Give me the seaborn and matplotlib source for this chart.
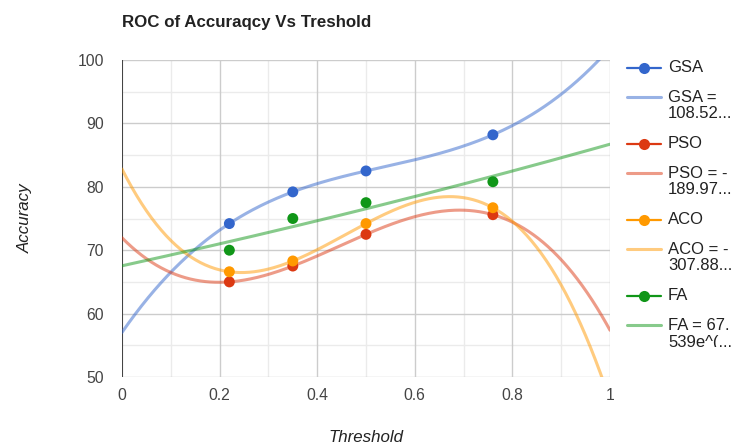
import numpy as np
import pandas as pd
import matplotlib
matplotlib.use("Agg")
import matplotlib.pyplot as plt
from matplotlib.lines import Line2D
from matplotlib.transforms import Affine2D, Bbox
import seaborn as sns

# ---- data ----
thresholds = [0.22, 0.35, 0.5, 0.76]
gsa = [74.2, 79.2, 82.5, 88.2]
pso = [65.0, 67.5, 72.5, 75.6]
aco = [66.6, 68.3, 74.2, 76.7]
fa = [70.0, 75.0, 77.5, 80.8]
series_names = ["GSA", "PSO", "ACO", "FA"]
trend_labels = [("GSA =", "108.52..."), ("PSO = -", "189.97..."),
                ("ACO = -", "307.88..."), ("FA = 67.", "539e^(...")]
colors = ["#3366cc", "#dc3912", "#ff9900", "#109618"]
x_ticks = [0, 0.2, 0.4, 0.6, 0.8, 1]
y_ticks = [50, 60, 70, 80, 90, 100]

W, H = 735, 445
sns.set_theme(style="white")
plt.rcParams["font.family"] = ["Liberation Sans", "DejaVu Sans"]

fig = plt.figure(figsize=(W / 100, H / 100), dpi=100)
ax = fig.add_axes([122 / W, 1 - 377 / H, (610 - 122) / W, (377 - 60) / H])

values = {"GSA": gsa, "PSO": pso, "ACO": aco, "FA": fa}
pts = pd.DataFrame([(n, x, y) for n in series_names for x, y in zip(thresholds, values[n])],
                   columns=["series", "x", "y"])

# trendlines: cubic polynomial for GSA/PSO/ACO, exponential for FA
xs = np.linspace(0, 1, 300)
rows = []
xarr = np.array(thresholds)
for n in series_names:
    yarr = np.array(values[n])
    if n == "FA":
        b, lna = np.polyfit(xarr, np.log(yarr), 1)
        ys = np.exp(lna) * np.exp(b * xs)
    else:
        ys = np.polyval(np.polyfit(xarr, yarr, 3), xs)
    rows += [(n, a, c) for a, c in zip(xs, ys)]
trend = pd.DataFrame(rows, columns=["series", "x", "y"])

pal = dict(zip(series_names, colors))

# grid
for v in np.arange(0.1, 1.0, 0.2):
    ax.axvline(v, color="#ebebeb", lw=1, zorder=0)
for v in np.arange(55, 100, 10):
    ax.axhline(v, color="#ebebeb", lw=1, zorder=0)
for v in x_ticks[1:]:
    ax.axvline(v, color="#cccccc", lw=1, zorder=0.5)
for v in y_ticks:
    ax.axhline(v, color="#cccccc", lw=1, zorder=0.5)
ax.axvline(0, color="#444444", lw=1.5, zorder=1)

sns.lineplot(data=trend, x="x", y="y", hue="series", palette=pal, ax=ax,
             legend=False, lw=2.2, alpha=0.5, zorder=2, sort=False,
             estimator=None)
sns.scatterplot(data=pts, x="x", y="y", hue="series", palette=pal, ax=ax,
                legend=False, s=62, linewidth=0, zorder=3)

ax.set_xlim(0, 1)
ax.set_ylim(50, 100)
ax.set_xticks(x_ticks)
ax.set_xticklabels(["0", "0.2", "0.4", "0.6", "0.8", "1"])
ax.set_yticks(y_ticks)
ax.set_yticklabels([str(v) for v in y_ticks])
ax.tick_params(axis="both", length=0, labelsize=11.3, colors="#444444")
ax.tick_params(axis="x", pad=8)
ax.tick_params(axis="y", pad=13)
for s in ax.spines.values():
    s.set_visible(False)
ax.set_xlabel("")
ax.set_ylabel("")

T = Affine2D().scale(1 / W, -1 / H).translate(0, 1) + fig.transFigure

fig.text(122, 22, "ROC of Accuraqcy Vs Treshold", transform=T, fontsize=12.2,
         fontweight="bold", color="#222222", va="center", ha="left")
fig.text(366, 437, "Threshold", transform=T, fontsize=12.2, style="italic",
         color="#222222", va="center", ha="center")
fig.text(25, 218, "Accuracy", transform=T, fontsize=12.2, style="italic",
         color="#222222", va="center", ha="center", rotation=90)

# legend
for i, (n, c) in enumerate(zip(series_names, colors)):
    y0 = 68 + 76 * i
    fig.add_artist(Line2D([627, 661], [y0, y0], color=c, lw=1.6, transform=T))
    fig.add_artist(Line2D([644], [y0], color=c, marker="o", ms=8, mew=0, transform=T))
    fig.text(668, y0, n, transform=T, fontsize=12, color="#222222", va="center")
    y1 = y0 + 29
    fig.add_artist(Line2D([627, 661], [y1, y1], color=c, lw=2.2, alpha=0.5, transform=T))
    fig.text(668, y1, trend_labels[i][0], transform=T, fontsize=12, color="#222222", va="center")
    t2 = fig.text(668, y1 + 17, trend_labels[i][1], transform=T, fontsize=12,
                  color="#222222", va="center")
    if i == 3:
        t2.set_clip_box(Bbox([[0, H - 347], [W, H]]))
        t2.set_clip_on(True)

fig.savefig("out.png", dpi=100)
